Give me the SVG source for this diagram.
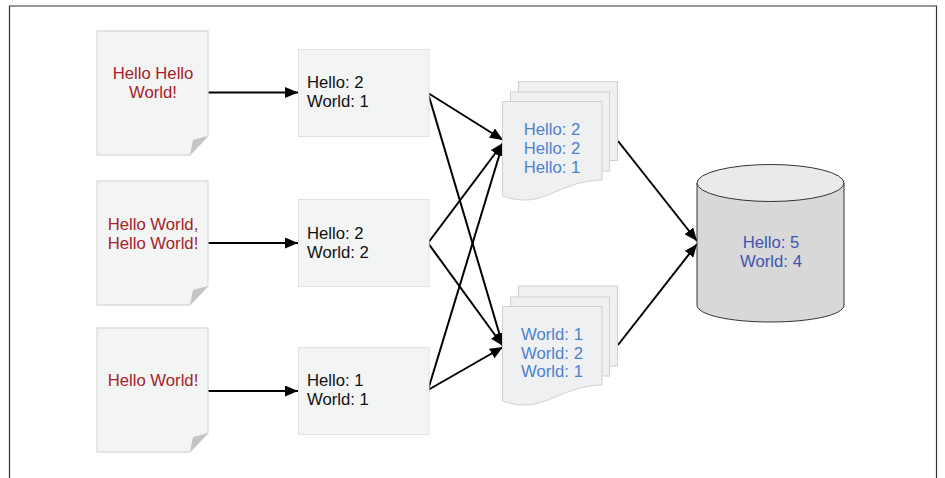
<svg xmlns="http://www.w3.org/2000/svg" width="945" height="478" viewBox="0 0 945 478">
<style>
text{font-family:"Liberation Sans",Arial,sans-serif;font-size:16.700px}
.r{fill:#a5222a;text-anchor:middle}
.k{fill:#111}
.b{fill:#4f81cb;text-anchor:middle}
.d{fill:#3f55b5;text-anchor:middle}
.doc{fill:#f3f4f4;stroke:#dcdcdc;stroke-width:1.3}
.fold{fill:#c4c4c4}
.box{fill:#f3f4f4;stroke:#e2e2e2;stroke-width:1}
.pg{fill:#eef0f1;stroke:#d2d0ce;stroke-width:1}
.c{fill:none;stroke:#000;stroke-width:2;marker-end:url(#a)}
</style>
<defs>
<marker id="a" markerUnits="userSpaceOnUse" markerWidth="14" markerHeight="11" refX="13" refY="5.500" orient="auto"><path d="M0 0L13 5.500L0 11z" fill="#000"/></marker>
<path id="folded" d="M0 0H111V105L93 124H0z"/>
<path id="tri" d="M111 105L96 109L93 124z"/>
</defs>
<rect width="945" height="478" fill="#fff"/>
<path d="M9.500 478V6H936.500V478" fill="none" stroke="#333" stroke-width="1.200"/>
<g id="connectors">
<path class="c" d="M208 92.500H298"/>
<path class="c" d="M208 243H298"/>
<path class="c" d="M208 391H298"/>
<path class="c" d="M428 93L503 140"/>
<path class="c" d="M428 93L503 346"/>
<path class="c" d="M428 243L503 143"/>
<path class="c" d="M428 243L503 346"/>
<path class="c" d="M428 390L503 143"/>
<path class="c" d="M428 390L503 347"/>
<path class="c" d="M618 141L697 241"/>
<path class="c" d="M618 345L697 244"/>
</g>
<g id="doc1" transform="translate(97 31)"><use href="#folded" class="doc"/><use href="#tri" class="fold"/><text class="r" x="56" y="48">Hello Hello</text><text class="r" x="56" y="67">World!</text></g>
<g id="doc2" transform="translate(97 181)"><use href="#folded" class="doc"/><use href="#tri" class="fold"/><text class="r" x="56" y="49">Hello World,</text><text class="r" x="56" y="68">Hello World!</text></g>
<g id="doc3" transform="translate(97 328)"><use href="#folded" class="doc"/><use href="#tri" class="fold"/><text class="r" x="56" y="58">Hello World!</text></g>
<g id="count1"><rect class="box" x="298.500" y="49.500" width="130.500" height="87"/><text class="k" x="307" y="88">Hello: 2</text><text class="k" x="307" y="107">World: 1</text></g>
<g id="count2"><rect class="box" x="298.500" y="199.500" width="130.500" height="87"/><text class="k" x="307" y="239">Hello: 2</text><text class="k" x="307" y="258">World: 2</text></g>
<g id="count3"><rect class="box" x="298.500" y="347.500" width="130.500" height="87"/><text class="k" x="307" y="386">Hello: 1</text><text class="k" x="307" y="405">World: 1</text></g>
<g id="stack1">
<rect class="pg" x="518.500" y="81.500" width="99" height="79"/>
<rect class="pg" x="510.500" y="92" width="99" height="79"/>
<path class="pg" d="M502.500 101.500H602V180C565 181 550 200 525 200C515 200 508 198 502.500 196z"/>
<text class="b" x="552" y="135">Hello: 2</text><text class="b" x="552" y="154">Hello: 2</text><text class="b" x="552" y="173">Hello: 1</text>
</g>
<g id="stack2">
<rect class="pg" x="518.500" y="286" width="99" height="80"/>
<rect class="pg" x="510.500" y="297" width="99" height="79"/>
<path class="pg" d="M502.500 306.500H602V385C565 386 550 405 525 405C515 405 508 403 502.500 401z"/>
<text class="b" x="552" y="340">World: 1</text><text class="b" x="552" y="359">World: 2</text><text class="b" x="552" y="377">World: 1</text>
</g>
<g id="store">
<path d="M697 183V305C697 315 730 322 770.500 322S844 315 844 305V183z" fill="#d8d8d8" stroke="#333" stroke-width="1"/>
<ellipse cx="770.500" cy="183" rx="73.500" ry="18.500" fill="#e9eaea" stroke="#333" stroke-width="1"/>
<text class="d" x="771" y="248">Hello: 5</text><text class="d" x="771" y="267">World: 4</text>
</g>
</svg>
